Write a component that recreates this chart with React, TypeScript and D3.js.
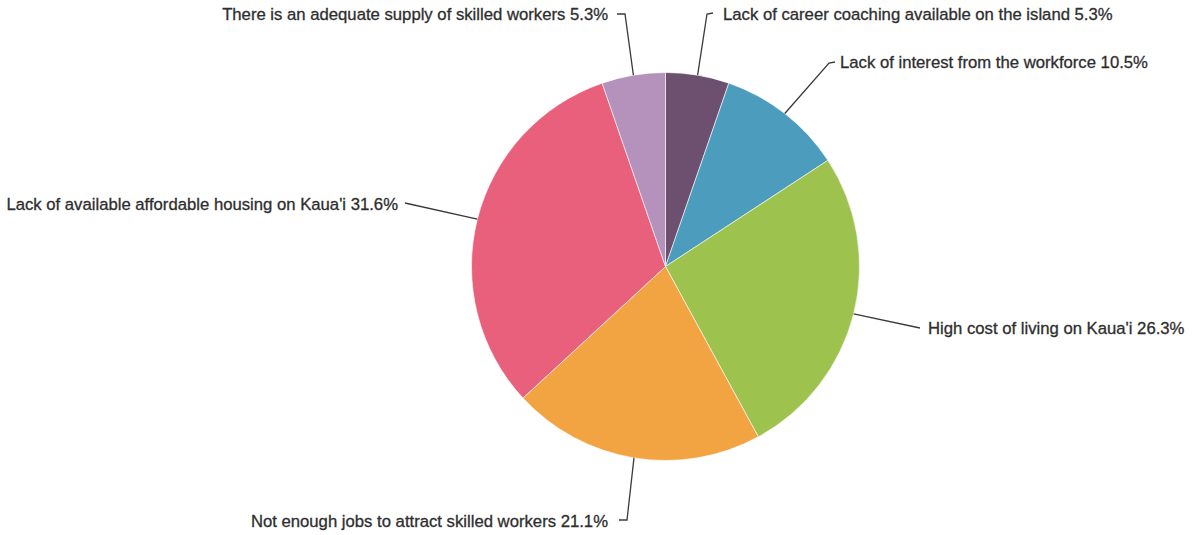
import React from "react";
import * as d3 from "d3";

const categories = [
  "Lack of career coaching available on the island",
  "Lack of interest from the workforce",
  "High cost of living on Kaua'i",
  "Not enough jobs to attract skilled workers",
  "Lack of available affordable housing on Kaua'i",
  "There is an adequate supply of skilled workers",
];
const values = [5.3, 10.5, 26.3, 21.1, 31.6, 5.3];
const colors = ["#6d4f70", "#4b9cbd", "#9dc24e", "#f2a442", "#e8607c", "#b592bb"];

// label layout: elbow point, optional tick end, text anchor position
const labelLayout = [
  { elbow: [707, 14], tick: [713, 13], tx: 723, ty: 20, anchor: "start" },
  { elbow: [829, 63], tick: [835, 62], tx: 840, ty: 68, anchor: "start" },
  { elbow: [920, 328], tick: null, tx: 928, ty: 334, anchor: "start" },
  { elbow: [627, 520], tick: [619, 520], tx: 608, ty: 527, anchor: "end" },
  { elbow: [405, 203], tick: null, tx: 398, ty: 210, anchor: "end" },
  { elbow: [625, 14], tick: [617, 14], tx: 608, ty: 20, anchor: "end" },
];

const W = 1192;
const H = 535;
const cx = 665.5;
const cy = 266.5;
const R = 194;

export default function App() {
  const pie = d3.pie<number>().sort(null).value((d) => d);
  const arcs = pie(values);
  const arc = d3.arc<d3.PieArcDatum<number>>().innerRadius(0).outerRadius(R);

  return (
    <svg
      width={W}
      height={H}
      style={{ position: "absolute", left: 0, top: 0, background: "#fff" }}
      fontFamily="'Liberation Sans', Arial, Helvetica, sans-serif"
    >
      <g transform={`translate(${cx},${cy})`}>
        {arcs.map((a, i) => (
          <path key={i} d={arc(a) || ""} fill={colors[i]} stroke="#ffffff" strokeWidth={0.6} />
        ))}
      </g>
      {arcs.map((a, i) => {
        const mid = (a.startAngle + a.endAngle) / 2;
        const sx = cx + R * Math.sin(mid);
        const sy = cy - R * Math.cos(mid);
        const L = labelLayout[i];
        const pts: [number, number][] = [[sx, sy], L.elbow as [number, number]];
        if (L.tick) pts.push(L.tick as [number, number]);
        const line = d3.line()(pts) || "";
        return (
          <g key={i}>
            <path d={line} fill="none" stroke="#3a3a3a" strokeWidth={1.3} />
            <text
              x={L.tx}
              y={L.ty}
              textAnchor={L.anchor as any}
              fontSize={16.7}
              fill="#2e2e2e"
              stroke="#2e2e2e"
              strokeWidth={0.3}
            >
              {`${categories[i]} ${values[i].toFixed(1)}%`}
            </text>
          </g>
        );
      })}
    </svg>
  );
}
